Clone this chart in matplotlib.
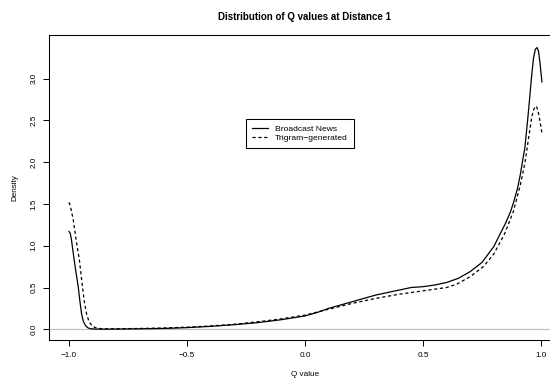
import matplotlib
matplotlib.use('Agg')
import matplotlib.pyplot as plt

plt.rcParams['font.family'] = ['Liberation Sans', 'DejaVu Sans']
plt.rcParams['lines.scale_dashes'] = False

# density estimates (Q value -> density)
bn_q = [-1.0, -0.995, -0.99, -0.982, -0.972, -0.961, -0.954, -0.947, -0.94, -0.93,
        -0.92, -0.91, -0.89, -0.85, -0.8, -0.7, -0.6, -0.5, -0.4, -0.3, -0.2, -0.1,
        0.0, 0.05, 0.1, 0.15, 0.2, 0.25, 0.3, 0.35, 0.4, 0.45, 0.5, 0.55, 0.6, 0.65,
        0.7, 0.75, 0.8, 0.825, 0.85, 0.87, 0.883, 0.9, 0.911, 0.932, 0.946, 0.96,
        0.968, 0.976, 0.984, 0.99, 0.996, 1.004]
bn_dens = [1.17, 1.15, 1.08, 0.91, 0.71, 0.51, 0.34, 0.19, 0.10, 0.045,
           0.018, 0.007, 0.003, 0.002, 0.003, 0.006, 0.010, 0.020, 0.035, 0.055, 0.08, 0.115,
           0.16, 0.20, 0.25, 0.29, 0.33, 0.37, 0.41, 0.44, 0.47, 0.50, 0.51, 0.53, 0.56, 0.61,
           0.69, 0.80, 0.99, 1.13, 1.27, 1.40, 1.51, 1.68, 1.83, 2.18, 2.58, 3.02,
           3.24, 3.35, 3.37, 3.32, 3.18, 2.96]

tg_q = [-1.0, -0.995, -0.99, -0.982, -0.97, -0.956, -0.943, -0.935, -0.926, -0.915,
        -0.9, -0.883, -0.86, -0.8, -0.7, -0.6, -0.5, -0.4, -0.3, -0.2, -0.1,
        0.0, 0.1, 0.2, 0.3, 0.4, 0.5, 0.6, 0.643, 0.7, 0.756, 0.8, 0.847, 0.883,
        0.911, 0.932, 0.946, 0.96, 0.967, 0.974, 0.98, 0.987, 0.995, 1.004]
tg_dens = [1.52, 1.48, 1.42, 1.31, 1.07, 0.83, 0.51, 0.33, 0.19, 0.09,
           0.035, 0.015, 0.006, 0.006, 0.010, 0.016, 0.025, 0.040, 0.060, 0.09, 0.125,
           0.17, 0.24, 0.31, 0.37, 0.42, 0.46, 0.50, 0.54, 0.63, 0.75, 0.90, 1.15, 1.41,
           1.71, 1.99, 2.26, 2.52, 2.61, 2.66, 2.67, 2.62, 2.50, 2.35]

series_labels = ['Broadcast News', 'Trigram\u2212generated']
x_ticks = [-1.0, -0.5, 0.0, 0.5, 1.0]
y_ticks = [0.0, 0.5, 1.0, 1.5, 2.0, 2.5, 3.0]


def main():
    W, H = 550, 380
    fig = plt.figure(figsize=(W / 100, H / 100), dpi=100)
    l, r, t, b = 49.3, 560.7, 35.3, 340.0
    ax = fig.add_axes([l / W, 1 - b / H, (r - l) / W, (b - t) / H])

    ax.axhline(0, color='#bebebe', lw=0.8, zorder=1)
    ax.plot(bn_q, bn_dens, color='black', lw=0.9, label=series_labels[0])
    ax.plot(tg_q, tg_dens, color='black', lw=0.9, dashes=(2.3, 1.9), label=series_labels[1])

    ax.set_xlim(-1.0835, 1.0835)
    ax.set_ylim(-0.128, 3.517)
    ax.set_xticks(x_ticks)
    ax.set_yticks(y_ticks)
    ax.set_xticklabels([f'{v:.1f}'.replace('-', '\u2212') for v in x_ticks])
    ax.set_yticklabels([f'{v:.1f}' for v in y_ticks], rotation=90, va='center')
    ax.tick_params(labelsize=5.9, length=4, width=0.7, pad=4.5, colors='black')
    for s in ax.spines.values():
        s.set_linewidth(0.75)

    ax.set_xlabel('Q value', fontsize=5.9, labelpad=9)
    ax.set_ylabel('Density', fontsize=5.9, labelpad=9)
    fig.text(305 / W, 1 - 16.8 / H, 'Distribution of Q values at Distance 1',
             ha='center', va='center', fontsize=7.0, fontweight='bold')

    leg = ax.legend(loc='upper left', bbox_to_anchor=(246 / W, 1 - 119.3 / H),
                    bbox_transform=fig.transFigure, borderaxespad=0, fontsize=6.1,
                    frameon=True, fancybox=False, framealpha=1, edgecolor='black',
                    handlelength=1.9, handletextpad=0.85, borderpad=0.7, labelspacing=0.15)
    leg.get_frame().set_linewidth(0.75)

    fig.savefig('out.png', dpi=100)


if __name__ == '__main__':
    main()
